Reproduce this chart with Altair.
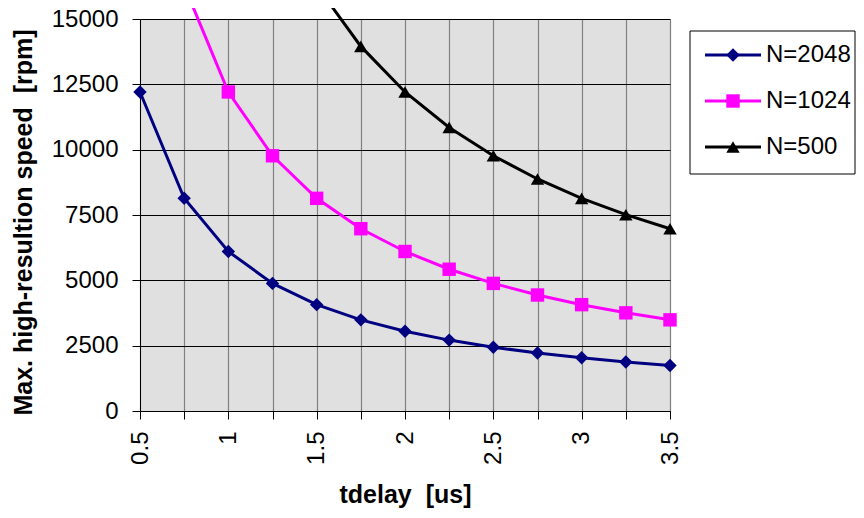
import altair as alt
import pandas as pd

tdelay = [0.5, 0.75, 1.0, 1.25, 1.5, 1.75, 2.0, 2.25, 2.5, 2.75, 3.0, 3.25, 3.5]
speed_2048 = [12207, 8138, 6104, 4883, 4069, 3488, 3052, 2713, 2441, 2219, 2035, 1878, 1744]
speed_1024 = [24414, 16276, 12207, 9766, 8138, 6975, 6104, 5425, 4883, 4439, 4069, 3756, 3488]
speed_500 = [48828, 32552, 24414, 19531, 16276, 13951, 12207, 10851, 9766, 8878, 8138, 7512, 6975]
series_names = ["N=2048", "N=1024", "N=500"]
series_colors = ["#000080", "#FF00FF", "#000000"]
series_shapes = ["diamond", "square", "triangle-up"]
y_ticks = [0, 2500, 5000, 7500, 10000, 12500, 15000]

rows = []
for name, vals in zip(series_names, [speed_2048, speed_1024, speed_500]):
    for t, v in zip(tdelay, vals):
        rows.append({"series": name, "t": t, "speed": v})
df = pd.DataFrame(rows)
legend_df = pd.DataFrame({"series": series_names})
box_df = pd.DataFrame({"series": [series_names[0]]})

FONT = "Liberation Sans"

color = alt.Color("series:N", scale=alt.Scale(domain=series_names, range=series_colors), legend=None)
shape = alt.Shape("series:N", scale=alt.Scale(domain=series_names, range=series_shapes), legend=None)

x_enc = alt.X(
    "t:Q",
    scale=alt.Scale(domain=[0.5, 3.5], nice=False, zero=False),
    axis=alt.Axis(
        values=tdelay, format="~g",
        labelExpr="datum.value % 0.5 == 0 ? datum.label : ''",
        labelAngle=270, labelOverlap=False, labelPadding=12,
        labelFont=FONT, labelFontSize=24, labelColor="black",
        tickSize=8, tickColor="black", domainColor="black",
        grid=True, gridColor="#808080", gridWidth=1.2, gridOpacity=1,
        title="tdelay\u00a0 [us]", titleFont=FONT, titleFontSize=25,
        titleFontWeight="bold", titleColor="black", titlePadding=18,
    ),
)
y_scale = alt.Scale(domain=[0, 15000], nice=False, zero=True)
y_enc = alt.Y(
    "speed:Q",
    scale=y_scale,
    axis=alt.Axis(
        values=y_ticks, format="d", labelPadding=14,
        labelFont=FONT, labelFontSize=24, labelColor="black",
        tickSize=8, tickColor="black", domainColor="black",
        grid=True, gridColor="black", gridWidth=1, gridOpacity=1,
        title="Max. high-resultion speed\u00a0 [rpm]", titleFont=FONT, titleFontSize=25,
        titleFontWeight="bold", titleColor="black", titlePadding=15, titleY=203,
    ),
)

lines = alt.Chart(df).mark_line(strokeWidth=3).encode(x=x_enc, y=y_enc, color=color)
points = (
    alt.Chart(df)
    .transform_filter("datum.speed <= 15000")
    .mark_point(filled=True, size=180, opacity=1)
    .encode(x=x_enc, y=alt.Y("speed:Q", scale=y_scale, axis=None), color=color, shape=shape)
)

leg_y = alt.Y("series:N", scale=alt.Scale(domain=series_names, range=[36, 128], padding=0), axis=None)
box = alt.Chart(box_df).mark_rect(fill="white", stroke="black", strokeWidth=1).encode(
    x=alt.value(550), x2=alt.value(715), y=alt.value(12), y2=alt.value(155)
)
# legend line sample: a thin horizontal bar symbol (56 px wide, 3 px tall)
leg_line = alt.Chart(legend_df).mark_point(filled=True, size=3136, opacity=1, strokeWidth=0).encode(
    x=alt.value(593), y=leg_y, color=color,
    shape=alt.value("M-1,-0.054H1V0.054H-1Z"),
)
leg_pts = alt.Chart(legend_df).mark_point(filled=True, size=180, opacity=1).encode(
    x=alt.value(593), y=leg_y, color=color, shape=shape
)
leg_text = alt.Chart(legend_df).mark_text(
    align="left", baseline="middle", fontSize=24, font=FONT, color="black"
).encode(x=alt.value(626), y=leg_y, text="series:N")

chart = (
    alt.layer(box, lines, points, leg_line, leg_pts, leg_text)
    .resolve_scale(y="independent")
    .properties(
        width=530, height=392,
        autosize=alt.AutoSizeParams(type="none"),
        padding={"left": 132, "top": 11, "right": 186, "bottom": 99},
    )
    .configure_view(fill="#E0E0E0", strokeWidth=0)
)

chart.save("out.html", embed_options={"renderer": "svg", "actions": False})
